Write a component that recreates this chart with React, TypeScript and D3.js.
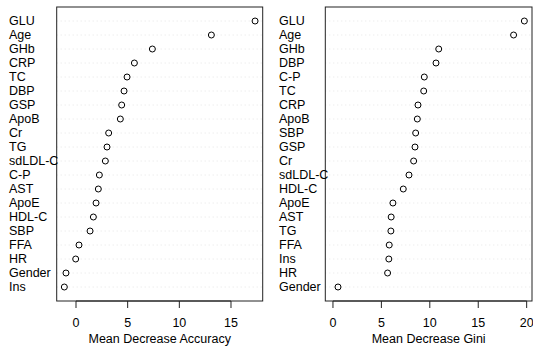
import React, { useEffect, useRef } from 'react';
import * as d3 from 'd3';

// variable names, top to bottom, and their importance values
const accLabels = ['GLU', 'Age', 'GHb', 'CRP', 'TC', 'DBP', 'GSP', 'ApoB', 'Cr', 'TG', 'sdLDL-C', 'C-P', 'AST', 'ApoE', 'HDL-C', 'SBP', 'FFA', 'HR', 'Gender', 'Ins'];
const accValues = [17.33, 13.1, 7.39, 5.65, 4.94, 4.65, 4.42, 4.29, 3.16, 3.0, 2.84, 2.26, 2.16, 1.94, 1.68, 1.36, 0.29, -0.03, -0.97, -1.13];
const accTicks = [0, 5, 10, 15];

const giniLabels = ['GLU', 'Age', 'GHb', 'DBP', 'C-P', 'TC', 'CRP', 'ApoB', 'SBP', 'GSP', 'Cr', 'sdLDL-C', 'HDL-C', 'ApoE', 'AST', 'TG', 'FFA', 'Ins', 'HR', 'Gender'];
const giniValues = [19.76, 18.65, 10.92, 10.64, 9.43, 9.37, 8.78, 8.71, 8.54, 8.47, 8.33, 7.85, 7.26, 6.19, 6.01, 5.98, 5.81, 5.77, 5.64, 0.52];
const giniTicks = [0, 5, 10, 15, 20];

const FONT = 'Arial, "Liberation Sans", Helvetica, sans-serif';

const App: React.FC = () => {
  const svgRef = useRef<SVGSVGElement>(null);

  useEffect(() => {
    if (!svgRef.current) return;
    const svg = d3.select(svgRef.current);
    svg.selectAll('*').remove();

    const top = 7;
    const bottom = 301;

    const drawPanel = (
      labels: string[], values: number[], ticks: number[], title: string,
      labelX: number, boxLeft: number, boxRight: number, xmin: number
    ) => {
      const n = labels.length;
      const lo = xmin;
      const hi = d3.max(values) as number;
      const pad = (hi - lo) * 0.04;
      const x = d3.scaleLinear().domain([lo - pad, hi + pad]).range([boxLeft, boxRight]);
      // row 1 at the bottom, row n at the top
      const y = d3.scaleLinear().domain([0, n + 1]).range([bottom, top]);
      const g = svg.append('g');

      // light dotted guide lines
      labels.forEach((_, i) => {
        g.append('line')
          .attr('x1', boxLeft).attr('x2', boxRight)
          .attr('y1', y(n - i)).attr('y2', y(n - i))
          .attr('stroke', '#e6e6e6')
          .attr('stroke-dasharray', '1,3');
      });

      g.append('rect')
        .attr('x', boxLeft).attr('y', top)
        .attr('width', boxRight - boxLeft).attr('height', bottom - top)
        .attr('fill', 'none').attr('stroke', '#222');

      values.forEach((v, i) => {
        g.append('circle')
          .attr('cx', x(v)).attr('cy', y(n - i))
          .attr('r', 3)
          .attr('fill', 'none').attr('stroke', '#000').attr('stroke-width', 1);
      });

      labels.forEach((l, i) => {
        g.append('text')
          .attr('x', labelX).attr('y', y(n - i))
          .attr('dominant-baseline', 'central')
          .attr('font-family', FONT).attr('font-size', 12.5)
          .attr('fill', '#000')
          .text(l);
      });

      // bottom axis
      g.append('line')
        .attr('x1', x(ticks[0])).attr('x2', x(ticks[ticks.length - 1]))
        .attr('y1', bottom).attr('y2', bottom)
        .attr('stroke', '#222');
      ticks.forEach(t => {
        g.append('line')
          .attr('x1', x(t)).attr('x2', x(t))
          .attr('y1', bottom).attr('y2', bottom + 7)
          .attr('stroke', '#222');
        g.append('text')
          .attr('x', x(t)).attr('y', 323)
          .attr('text-anchor', 'middle').attr('dominant-baseline', 'central')
          .attr('font-family', FONT).attr('font-size', 12.5)
          .text(String(t));
      });

      g.append('text')
        .attr('x', (boxLeft + boxRight) / 2).attr('y', 339)
        .attr('text-anchor', 'middle').attr('dominant-baseline', 'central')
        .attr('font-family', FONT).attr('font-size', 12.5)
        .text(title);
    };

    drawPanel(accLabels, accValues, accTicks, 'Mean Decrease Accuracy', 9, 56.7, 262.7, d3.min(accValues) as number);
    drawPanel(giniLabels, giniValues, giniTicks, 'Mean Decrease Gini', 279, 325.3, 532, 0);
  }, []);

  return (
    <svg
      ref={svgRef}
      width={533}
      height={347}
      style={{ position: 'absolute', left: 0, top: 0, background: '#fff' }}
    />
  );
};

export default App;
